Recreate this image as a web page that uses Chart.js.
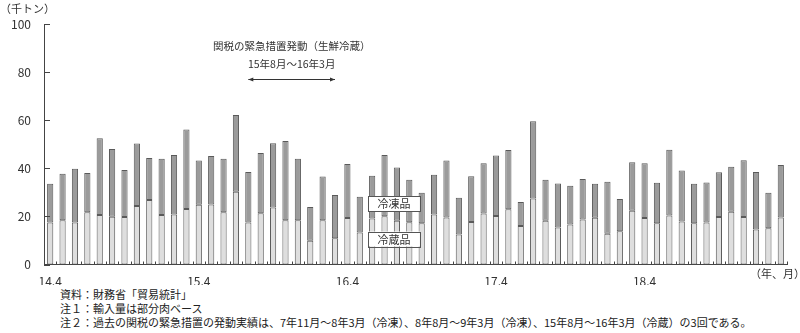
<!DOCTYPE html>
<html lang="ja">
<head>
<meta charset="utf-8">
<script src="https://cdn.jsdelivr.net/npm/chart.js@4"></script>
<style>
  html, body { margin: 0; padding: 0; background: #fff; }
  #wrap { position: relative; width: 800px; height: 333px; overflow: hidden; }
  #box { position: absolute; left: 0; top: 0; width: 800px; height: 285px; }
  .note { position: absolute; left: 60px; font: 11px "Noto Sans CJK JP", sans-serif; color: #222; white-space: nowrap; }
</style>
</head>
<body>
<div id="wrap">
  <div id="box"><canvas id="beefChart"></canvas></div>
  <div class="note" style="top:286px">資料：財務省「貿易統計」</div>
  <div class="note" style="top:300px">注１：輸入量は部分肉ベース</div>
  <div class="note" style="top:314px">注２：過去の関税の緊急措置の発動実績は、7年11月～8年3月（冷凍）、8年8月～9年3月（冷凍）、15年8月～16年3月（冷蔵）の3回である。</div>
</div>
<script>
const months = [
  "14.4","14.5","14.6","14.7","14.8","14.9","14.10","14.11","14.12","15.1","15.2","15.3",
  "15.4","15.5","15.6","15.7","15.8","15.9","15.10","15.11","15.12","16.1","16.2","16.3",
  "16.4","16.5","16.6","16.7","16.8","16.9","16.10","16.11","16.12","17.1","17.2","17.3",
  "17.4","17.5","17.6","17.7","17.8","17.9","17.10","17.11","17.12","18.1","18.2","18.3",
  "18.4","18.5","18.6","18.7","18.8","18.9","18.10","18.11","18.12","19.1","19.2","19.3"
];
const shownLabels = ["14.4", "15.4", "16.4", "17.4", "18.4"];

// 冷蔵品 (bottom, light)
const chilled = [
  17.5, 18.4, 17.5, 21.7, 20.6, 19.9, 19.8, 24.3, 26.8, 20.6, 20.8, 23.1,
  24.8, 25.0, 21.7, 30.3, 17.5, 21.3, 23.7, 18.4, 18.4, 9.9, 18.4, 10.9,
  19.3, 13.3, 19.1, 20.1, 18.2, 17.6, 17.1, 20.8, 19.5, 12.5, 17.7, 21.2,
  20.2, 23.0, 16.0, 27.4, 18.2, 15.4, 16.6, 18.7, 19.4, 12.8, 13.8, 22.3,
  19.3, 17.1, 20.4, 17.9, 17.2, 17.5, 19.7, 21.9, 19.8, 14.6, 15.1, 19.5
];
// 冷凍品 (top, dark)
const frozen = [
  16.1, 19.3, 22.3, 16.3, 31.9, 28.1, 19.5, 26.0, 17.5, 23.4, 24.7, 33.0,
  18.4, 20.1, 22.3, 31.9, 21.0, 25.1, 26.7, 32.9, 25.6, 14.0, 18.2, 18.0,
  22.5, 14.9, 17.8, 25.4, 22.1, 17.6, 12.7, 16.5, 23.7, 15.3, 19.0, 20.9,
  25.1, 24.6, 10.0, 32.2, 17.0, 18.3, 16.1, 16.9, 14.2, 21.6, 13.4, 20.2,
  22.8, 16.9, 27.3, 21.2, 16.4, 16.6, 18.7, 18.7, 23.5, 23.9, 14.7, 21.9
];
const yTicks = [0, 20, 40, 60, 80, 100];

const FONT = '"Noto Sans CJK JP", sans-serif';
const INK = "#333";

// tick marks pointing into the plot, labels and annotations
const extras = {
  id: "extras",
  afterDatasetsDraw(chart) {
    const ctx = chart.ctx;
    const xs = chart.scales.x;
    const ys = chart.scales.y;
    const area = chart.chartArea;
    ctx.save();
    ctx.strokeStyle = "#444";
    ctx.lineWidth = 1;

    // y ticks inward
    for (const v of yTicks) {
      const y = Math.round(ys.getPixelForValue(v)) + 0.5;
      ctx.beginPath();
      ctx.moveTo(area.left, y);
      ctx.lineTo(area.left + 6, y);
      ctx.stroke();
    }
    // x ticks between months
    const step = xs.getPixelForValue(1) - xs.getPixelForValue(0);
    for (let i = 1; i <= months.length; i++) {
      const x = Math.round(xs.getPixelForValue(i) - step / 2) + 0.5;
      ctx.beginPath();
      ctx.moveTo(x, area.bottom);
      ctx.lineTo(x, area.bottom - 3);
      ctx.stroke();
    }

    // boxed series labels
    const boxes = [["冷凍品", 25.3], ["冷蔵品", 10.6]];
    ctx.font = "11px " + FONT;
    ctx.textAlign = "center";
    ctx.textBaseline = "middle";
    for (const [txt, v] of boxes) {
      const cx = xs.getPixelForValue(28) - 3;
      const cy = ys.getPixelForValue(v);
      ctx.fillStyle = "#fff";
      ctx.fillRect(cx - 26, cy - 7.5, 52, 15);
      ctx.strokeStyle = "#555";
      ctx.strokeRect(Math.round(cx - 26) + 0.5, Math.round(cy - 7.5) + 0.5, 52, 15);
      ctx.fillStyle = INK;
      ctx.fillText(txt, cx, cy + 0.5);
    }

    // safeguard period annotation
    const x1 = xs.getPixelForValue(16);
    const x2 = xs.getPixelForValue(23);
    const mid = (x1 + x2) / 2;
    ctx.font = "10.5px " + FONT;
    ctx.fillText("関税の緊急措置発動（生鮮冷蔵）", mid, 46);
    ctx.fillText("15年8月～16年3月", mid, 64);
    ctx.strokeStyle = "#333";
    ctx.beginPath();
    ctx.moveTo(x1, 79.5);
    ctx.lineTo(x2, 79.5);
    ctx.stroke();
    ctx.fillStyle = "#333";
    for (const [px, dir] of [[x1, 1], [x2, -1]]) {
      ctx.beginPath();
      ctx.moveTo(px, 79.5);
      ctx.lineTo(px + dir * 5, 77.5);
      ctx.lineTo(px + dir * 5, 81.5);
      ctx.closePath();
      ctx.fill();
    }

    // axis captions
    ctx.font = "11px " + FONT;
    ctx.textAlign = "left";
    ctx.fillText("（千トン）", 0, 9);
    ctx.fillText("（年、月）", 750, 274);
    ctx.restore();
  }
};

new Chart(document.getElementById("beefChart").getContext("2d"), {
  type: "bar",
  data: {
    labels: months,
    datasets: [
      {
        label: "冷蔵品",
        data: chilled,
        backgroundColor: "#dedede",
        borderColor: "#5a5a5a",
        borderWidth: 1,
        borderSkipped: false,
      },
      {
        label: "冷凍品",
        data: frozen,
        backgroundColor: "#9b9b9b",
        borderColor: "#5a5a5a",
        borderWidth: 1,
        borderSkipped: false,
      },
    ],
  },
  options: {
    responsive: true,
    maintainAspectRatio: false,
    animation: false,
    layout: { padding: { top: 24, right: 13, left: 0, bottom: 0 } },
    datasets: { bar: { categoryPercentage: 1, barPercentage: 0.5 } },
    plugins: {
      legend: { display: false },
      tooltip: { enabled: false },
    },
    scales: {
      x: {
        stacked: true,
        grid: { display: false },
        border: { display: true, color: "#444" },
        afterFit(scale) { scale.height = 20.5; },
        ticks: {
          autoSkip: false,
          maxRotation: 0,
          padding: 2,
          color: INK,
          font: { size: 12, family: FONT },
          callback: function (value) {
            const lab = months[value];
            return shownLabels.includes(lab) ? lab : "";
          },
        },
      },
      y: {
        stacked: true,
        min: 0,
        max: 100,
        grid: { display: false },
        border: { display: true, color: "#444" },
        afterFit(scale) { scale.width = 44; },
        ticks: {
          stepSize: 20,
          padding: 5,
          color: INK,
          font: { size: 12, family: FONT },
        },
      },
    },
  },
  plugins: [extras],
});
</script>
</body>
</html>
